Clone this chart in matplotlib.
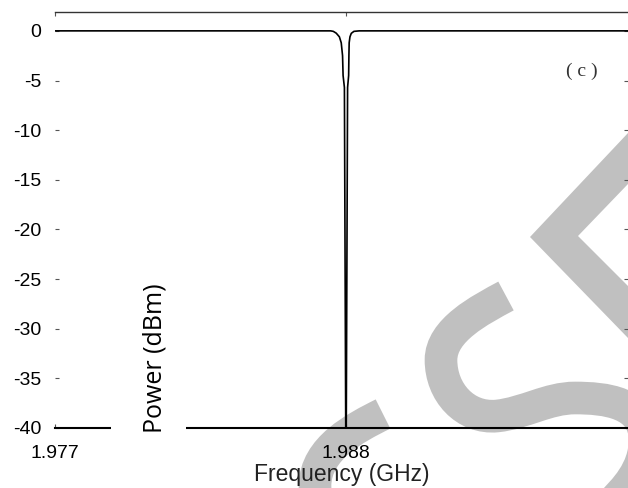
import matplotlib
matplotlib.use("Agg")
import matplotlib.pyplot as plt
from matplotlib.path import Path
from matplotlib.patches import PathPatch, Polygon, Rectangle

plt.rcParams['font.family'] = ['Liberation Sans', 'DejaVu Sans']

# notch response
freq_ghz = [1.9770, 1.98742, 1.98752, 1.98763, 1.98775, 1.98782, 1.98787, 1.98789,
            1.98794, 1.98799, 1.98801, 1.98806, 1.98810, 1.98811, 1.98812, 1.98815,
            1.98820, 1.98830, 1.98850, 1.99866]
power_dbm = [0.0, 0.0, -0.05, -0.23, -0.6, -1.2, -2.5, -4.5,
             -5.7, -40.0, -40.0, -5.7, -4.5, -2.5, -1.2, -0.6,
             -0.25, -0.05, 0.0, 0.0]

x_ticks = [1.977, 1.988]
x_ticklabels = ['1.977', '1.988']
y_ticks = [0, -5, -10, -15, -20, -25, -30, -35, -40]
y_ticklabels = ['0', '-5', '-10', '-15', '-20', '-25', '-30', '-35', '-40']

W, H = 628, 488
fig = plt.figure(figsize=(W / 100, H / 100), dpi=100)

# grey watermark strokes behind the chart (pixel coords)
bg = fig.add_axes([0, 0, 1, 1], zorder=0)
bg.set_xlim(0, W)
bg.set_ylim(H, 0)
bg.axis('off')
grey = '#c0c0c0'
bg.add_patch(Polygon([(628, 133), (530, 237), (628, 338), (628, 286), (578, 236), (628, 184)],
                     closed=True, facecolor=grey, edgecolor='none'))
s_verts = [(506, 296), (480, 310), (441, 330), (441, 360),
           (441, 392), (465, 419), (497, 416),
           (525, 413), (548, 398), (575, 398),
           (605, 398), (645, 402), (645, 440),
           (645, 470), (625, 490), (610, 505)]
s_codes = [Path.MOVETO] + [Path.CURVE4] * 15
bg.add_patch(PathPatch(Path(s_verts, s_codes), facecolor='none', edgecolor=grey,
                       lw=23.5, capstyle='butt'))
c_verts = [(383, 414), (355, 428), (316, 448), (315, 485), (315, 500), (318, 510), (322, 520)]
c_codes = [Path.MOVETO] + [Path.CURVE4] * 6
bg.add_patch(PathPatch(Path(c_verts, c_codes), facecolor='none', edgecolor=grey,
                       lw=23.5, capstyle='butt'))

ax = fig.add_axes([55 / W, 1 - 428 / H, 573 / W, 416 / H], zorder=1)
ax.set_facecolor('none')
ax.plot(freq_ghz, power_dbm, color='black', lw=1.2, solid_joinstyle='round')

ax.set_xlim(1.977, 1.99866)
ax.set_ylim(-40, 1.9)
ax.set_xticks(x_ticks)
ax.set_xticklabels(x_ticklabels)
ax.set_yticks(y_ticks)
ax.set_yticklabels(y_ticklabels)

ax.tick_params(axis='both', direction='in', length=3, width=0.8, color='#555555',
               labelcolor='black', labelsize=14)
ax.tick_params(axis='x', top=True, pad=12)
ax.tick_params(axis='y', right=True, pad=10)

ax.spines['left'].set_visible(False)
ax.spines['right'].set_visible(False)
ax.spines['top'].set_color('#333333')
ax.spines['top'].set_linewidth(1.0)
ax.spines['bottom'].set_color('black')
ax.spines['bottom'].set_linewidth(1.5)

ax.set_xlabel('Frequency (GHz)', fontsize=16.5, labelpad=1, color='#222222')

# y label sits inside the plot, over a white gap in the bottom line
ax.add_patch(Rectangle((0.0977, -0.02), 0.131, 0.04, transform=ax.transAxes,
                       facecolor='white', edgecolor='none', clip_on=False, zorder=3))
ax.text(0.174, -0.012, 'Power (dBm)', transform=ax.transAxes, rotation=90,
        ha='center', va='bottom', fontsize=18, family='Open Sans', zorder=4)

fig.text(582 / W, 1 - 71 / H, '( c )', ha='center', va='center', fontsize=14,
         family='Liberation Serif', color='#333333')

fig.savefig('out.png', dpi=100)
